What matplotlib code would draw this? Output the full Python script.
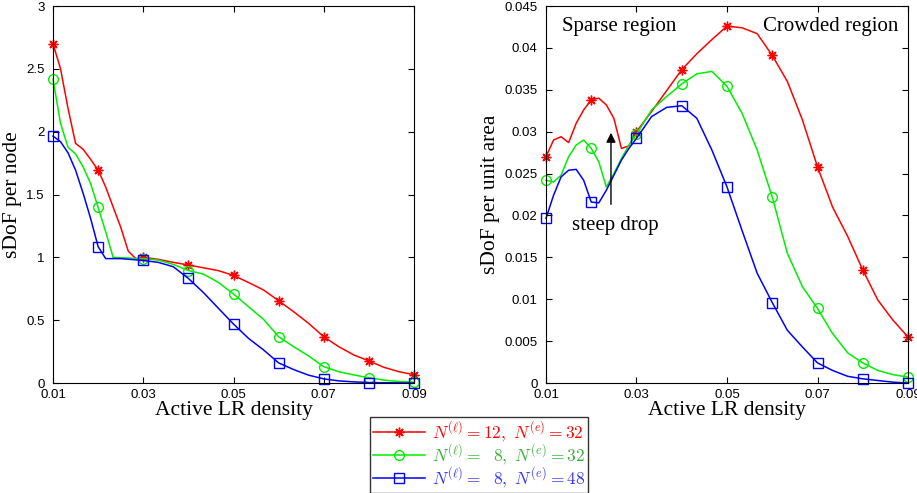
import numpy as np
import matplotlib
matplotlib.use('Agg')
import matplotlib.pyplot as plt

# ACTIVE LR DENSITY GRID (FINE STEP UP TO 0.03, THEN COARSER)
density = [0.01, 0.01167, 0.01333, 0.015, 0.01667, 0.01833, 0.02, 0.02167, 0.02333,
           0.025, 0.02667, 0.02833, 0.03, 0.03333, 0.03667, 0.04, 0.04333, 0.04667,
           0.05, 0.05333, 0.05667, 0.06, 0.06333, 0.06667, 0.07, 0.07333, 0.07667,
           0.08, 0.08333, 0.08667, 0.09]

# sDoF PER NODE
node_red = [2.70, 2.50, 2.185, 1.907, 1.86, 1.78, 1.695, 1.56, 1.40, 1.24, 1.05, 0.99, 1.0,
            0.984, 0.96, 0.939, 0.917, 0.894, 0.856, 0.80, 0.74, 0.655, 0.567, 0.474, 0.368,
            0.289, 0.223, 0.176, 0.125, 0.09, 0.066]
node_green = [2.418, 2.066, 1.875, 1.823, 1.72, 1.588, 1.397, 1.204, 1.0, 0.997, 0.995, 0.99, 0.99,
              0.978, 0.944, 0.895, 0.867, 0.80, 0.708, 0.607, 0.506, 0.368, 0.289, 0.215, 0.13,
              0.09, 0.064, 0.042, 0.023, 0.012, 0.007]
node_blue = [1.965, 1.92, 1.832, 1.694, 1.51, 1.31, 1.085, 0.99, 0.99, 0.99, 0.985, 0.98, 0.975,
             0.96, 0.925, 0.832, 0.72, 0.594, 0.469, 0.355, 0.263, 0.16, 0.107, 0.062, 0.033,
             0.017, 0.009, 0.004, 0.002, 0.001, 0.0]

# sDoF PER UNIT AREA
area_red = [0.027, 0.029, 0.0294, 0.0287, 0.031, 0.0326, 0.0338, 0.0340, 0.0332, 0.0316, 0.0280,
            0.0283, 0.0300, 0.0324, 0.0349, 0.0374, 0.0393, 0.0410, 0.0426, 0.0424, 0.0417,
            0.0391, 0.0360, 0.0314, 0.0258, 0.0210, 0.0175, 0.0135, 0.0099, 0.0075, 0.0055]
area_green = [0.0242, 0.0240, 0.0248, 0.0270, 0.0284, 0.0290, 0.0280, 0.0264, 0.0234, 0.0250,
              0.0268, 0.0284, 0.0297, 0.0326, 0.0342, 0.0357, 0.0369, 0.0372, 0.0354, 0.0322,
              0.0278, 0.0222, 0.0155, 0.0115, 0.0089, 0.0059, 0.0036, 0.0024, 0.0015, 0.0010,
              0.0007]
area_blue = [0.01965, 0.0224, 0.0246, 0.0254, 0.0255, 0.0242, 0.0216, 0.0215, 0.0230, 0.0248,
             0.0266, 0.0280, 0.0292, 0.0318, 0.0329, 0.0331, 0.0316, 0.0278, 0.0234, 0.0182,
             0.0131, 0.0096, 0.0063, 0.0043, 0.0024, 0.0015, 0.0008, 0.0005, 0.0003, 0.0001, 0.0]

labels = [r'$N^{(\ell)}=12,\ N^{(e)}=32$',
          r'$N^{(\ell)}=\ \ 8,\ N^{(e)}=32$',
          r'$N^{(\ell)}=\ \ 8,\ N^{(e)}=48$']
x_ticks = [0.01, 0.03, 0.05, 0.07, 0.09]
marks = [0, 6, 12, 15, 18, 21, 24, 27, 30]  # MARKERS AT EVERY 0.01

plt.rcParams['font.family'] = 'Liberation Sans'
plt.rcParams['mathtext.fontset'] = 'cm'

styles = [('#ff0000', (8, 2, 0)), ('#00ee00', 'o'), ('#0000ff', 's')]
text_colors = ['#ff0000', '#33b033', '#3333ff']
serif = 'Liberation Serif'

fig = plt.figure(figsize=(9.17, 4.93), dpi=100)
ax1 = fig.add_axes([0.0578, 0.2231, 0.3937, 0.7647])
ax2 = fig.add_axes([0.5954, 0.2231, 0.3948, 0.7647])

handles = []
for ax, series in [(ax1, [node_red, node_green, node_blue]), (ax2, [area_red, area_green, area_blue])]:
    for (c, m), y, lab in zip(styles, series, labels):
        h, = ax.plot(density, y, color=c, lw=1.1, marker=m, markevery=marks, markersize=7,
                     markerfacecolor='none', markeredgecolor=c, markeredgewidth=1.0,
                     clip_on=False, label=lab)
        if ax is ax1:
            handles.append(h)
    ax.set_xlim(0.01, 0.09)
    ax.set_xticks(x_ticks)
    ax.set_xticklabels(['0.01', '0.03', '0.05', '0.07', '0.09'])
    ax.tick_params(direction='in', top=True, right=True, labelsize=9.5, length=4)
    ax.tick_params(axis='x', pad=4)
    ax.tick_params(axis='y', pad=6)
    ax.set_xlabel('Active LR density', family=serif, fontsize=15.5, labelpad=0)

ax1.set_ylim(0, 3)
ax1.set_yticks([0, 0.5, 1, 1.5, 2, 2.5, 3])
ax1.set_yticklabels(['0', '0.5', '1', '1.5', '2', '2.5', '3'])
ax1.set_ylabel('sDoF per node', family=serif, fontsize=15.5, labelpad=3)

ax2.set_ylim(0, 0.045)
ax2.set_yticks(np.arange(0, 0.0451, 0.005))
ax2.set_yticklabels(['0', '0.005', '0.01', '0.015', '0.02', '0.025', '0.03', '0.035', '0.04', '0.045'])
ax2.set_ylabel('sDoF per unit area', family=serif, fontsize=15.5, labelpad=3)

# ANNOTATIONS
ax2.text(0.0262, 0.0425, 'Sparse region', family=serif, fontsize=15, ha='center', va='center')
ax2.text(0.0730, 0.0425, 'Crowded region', family=serif, fontsize=15, ha='center', va='center')
ax2.text(0.02525, 0.01885, 'steep drop', family=serif, fontsize=15, ha='center', va='center')
ax2.annotate('', xy=(0.02436, 0.0302), xytext=(0.02436, 0.0210),
             arrowprops=dict(arrowstyle='-|>', color='black', lw=1.0, mutation_scale=14))

leg = fig.legend(handles=handles, loc='center', bbox_to_anchor=(0.5224, 0.077), fontsize=12.5,
                 frameon=True, fancybox=False, edgecolor='black', handlelength=3.0,
                 handletextpad=0.4, labelspacing=-0.1, borderpad=0.15, borderaxespad=0)
leg.get_frame().set_linewidth(1.0)
for t, c in zip(leg.get_texts(), text_colors):
    t.set_color(c)

fig.savefig('out.png', dpi=100)
